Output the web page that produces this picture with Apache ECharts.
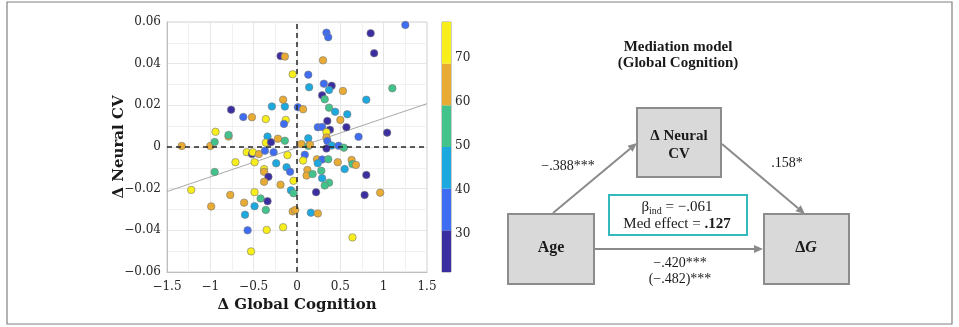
<!DOCTYPE html>
<html>
<head>
<meta charset="utf-8">
<script src="https://cdn.jsdelivr.net/npm/echarts@6/dist/echarts.min.js"></script>
<style>
  html, body { margin: 0; padding: 0; background: #ffffff; }
  #chart { width: 959px; height: 327px; }
</style>
</head>
<body>
<div id="chart"></div>
<script>
// Change in global cognition (x) vs change in neural CV (y), coloured by age
const cogX = [
  -1.33, -1.00, -0.95, -0.94, -0.79, -0.79, -0.76, -0.62, -0.52, -0.36, -0.34, -0.36, -0.30, -0.22, -0.14, -0.29,
  -0.14, -0.16, -0.13, -0.15, -0.19, -0.14, -0.05, 0.01, -0.58, -0.52, -0.51, -0.44, -0.37, -0.27, -0.11,
  1.25, 0.34, 0.36, 0.85, 0.89, 0.30, 0.13, 0.14, 0.31, 0.40, 0.37, 0.53, 1.10, 0.29, 0.32, 0.80, 0.07, 0.37,
  0.44, 0.58, 0.50, 0.35, 0.24, 0.29, 0.38, 0.34, 0.57, 1.04, 0.71, 0.34, 0.13, 0.35, 0.05, 0.13, 0.15, 0.40,
  0.48, 0.54, 0.34,
  0.09, 0.07, 0.23, 0.29, 0.36, 0.24, 0.47, 0.63, 0.64, 0.68, 0.55, 0.80, 0.12, 0.11, 0.18, 0.28, 0.29, 0.37,
  0.32, 0.22, 0.78, 0.96, 0.16, 0.24, 0.64,
  -0.71, -0.49, -0.95, -0.38, -0.38, -0.33, -0.38, -0.24, -0.12, -0.08, -0.19, -0.04, -0.07, -0.04, -1.22,
  -0.77, -0.49, -0.42, -0.34, -0.61, -0.49, -0.36, -0.99, -0.60, -0.05, -0.02, -0.57, -0.35, -0.16, -0.53
];
const cvY = [
  0.0005, 0.0005, 0.0024, 0.0073, 0.0050, 0.0058, 0.0179, 0.0144, 0.0143, 0.0134, 0.0050, 0.0021, 0.0023, 0.0040,
  0.0030, 0.0195, 0.0194, 0.0227, 0.0130, 0.0111, 0.0437, 0.0434, 0.0349, 0.0191, -0.0025, -0.0034, -0.0025,
  -0.0034, -0.0018, -0.0025, -0.0039,
  0.0586, 0.0549, 0.0527, 0.0546, 0.0450, 0.0416, 0.0347, 0.0287, 0.0304, 0.0294, 0.0274, 0.0269, 0.0282, 0.0248,
  0.0229, 0.0227, 0.0181, 0.0189, 0.0169, 0.0157, 0.0130, 0.0125, 0.0095, 0.0096, 0.0083, 0.0071, 0.0095, 0.0069,
  0.0049, 0.0046, 0.0042, 0.0029, 0.0014, 0.0005, 0.0011, 0.0007, 0.0006, -0.0003, -0.0007,
  -0.0037, -0.0065, -0.0059, -0.0060, -0.0059, -0.0078, -0.0073, -0.0062, -0.0082, -0.0086, -0.0106, -0.0134,
  -0.0110, -0.0137, -0.0130, -0.0114, -0.0150, -0.0171, -0.0185, -0.0217, -0.0230, -0.0219, -0.0315, -0.0319, -0.0434,
  -0.0073, -0.0073, -0.0120, -0.0106, -0.0119, -0.0143, -0.0167, -0.0078, -0.0097, -0.0119, -0.0181, -0.0162,
  -0.0208, -0.0222, -0.0206, -0.0230, -0.0217, -0.0247, -0.0260, -0.0267, -0.0284, -0.0302, -0.0285, -0.0325,
  -0.0309, -0.0302, -0.0400, -0.0398, -0.0385, -0.0501
];
const ages = [
  63, 66, 54, 72, 62, 56, 27, 35, 64, 74, 45, 71, 25, 65, 53, 44, 46, 61, 73, 37, 26, 67, 70, 34, 76, 28, 72, 63, 36, 33, 71,
  36, 33, 38, 24, 27, 64, 35, 43, 37, 29, 47, 62, 55, 26, 57, 44, 66, 52, 45, 42, 63, 25, 34, 39, 28, 75, 23, 27, 36,
  61, 46, 38, 65, 53, 67, 44, 35, 56, 29,
  34, 73, 62, 37, 54, 46, 65, 63, 56, 61, 43, 26, 64, 66, 52, 55, 45, 57, 53, 28, 24, 62, 47, 65, 74,
  72, 75, 53, 71, 64, 27, 66, 44, 46, 35, 63, 70, 42, 55, 77, 62, 73, 54, 25, 67, 45, 57, 61, 43, 64, 66, 38, 74, 72, 76
];

// Least-squares line end points
const fitX = [-1.5, 1.5];
const fitY = [-0.0214, 0.0208];

// Age colour scale (six bands)
const ageEdges = [21.2, 30.7, 40.2, 49.7, 59.2, 68.7, 78.2];
const bandColors = ['#3b2ea0', '#3e6cf2', '#1ca9df', '#42c38c', '#e8ab33', '#f7ee1c'];
const ageTicks = [30, 40, 50, 60, 70];

// Axis ticks
const xTicks = { min: -1.5, max: 1.5, step: 0.5 };
const yTicks = { min: -0.06, max: 0.06, step: 0.02 };

// Mediation path coefficients
const pathA = '\u2212.388***';
const pathB = '.158*';
const pathC = '\u2212.420***';
const pathCTotal = '(\u2212.482)***';
const betaInd = '\u2212.061';
const medEffect = '.127';

const SERIF = '"DejaVu Serif", serif';
const TIMES = '"Liberation Serif", "Times New Roman", serif';

const fmt = v => {
  const s = String(+v.toFixed(3));
  return s.charAt(0) === '-' ? '\u2212' + s.slice(1) : s;
};

const points = cogX.map((x, i) => [x, cvY[i], ages[i]]);
const fitData = fitX.map((x, i) => [x, fitY[i]]);
const bands = bandColors.map((c, i) => [0.5, ageEdges[i], ageEdges[i + 1], i]);

// Mediation diagram geometry
const boxFill = '#d9d9d9', boxStroke = '#8c8c8c', arrowColor = '#8a8a8a';
const boxes = {
  mid: { x: 637, y: 108, w: 84, h: 69 },
  age: { x: 508, y: 214, w: 86, h: 70 },
  out: { x: 764, y: 214, w: 85, h: 70 }
};
function arrow(x1, y1, x2, y2) {
  const ang = Math.atan2(y2 - y1, x2 - x1), L = 9, W = 4;
  const bx = x2 - L * Math.cos(ang), by = y2 - L * Math.sin(ang);
  const nx = -Math.sin(ang), ny = Math.cos(ang);
  return [
    { type: 'line', shape: { x1, y1, x2: bx, y2: by }, style: { stroke: arrowColor, lineWidth: 2 } },
    { type: 'polygon', shape: { points: [[x2, y2], [bx + nx * W, by + ny * W], [bx - nx * W, by - ny * W]] },
      style: { fill: arrowColor } }
  ];
}
function box(b) {
  return { type: 'rect', shape: { x: b.x, y: b.y, width: b.w, height: b.h },
    style: { fill: boxFill, stroke: boxStroke, lineWidth: 2 } };
}
function txt(x, y, text, font, extra) {
  return Object.assign({ type: 'text', x, y,
    style: Object.assign({ text, fill: '#1a1a1a', align: 'center', verticalAlign: 'middle' }, font) }, extra || {});
}

const graphics = [
  { type: 'rect', shape: { x: 7, y: 2, width: 945, height: 322 }, style: { fill: null, stroke: '#808080', lineWidth: 1.2 } },
  txt(678, 47, 'Mediation model', { font: 'bold 15px ' + TIMES }),
  txt(678, 63, '(Global Cognition)', { font: 'bold 15px ' + TIMES }),
  ...arrow(553, 213, 637, 143),
  ...arrow(722, 144, 805, 214),
  ...arrow(594, 249, 763, 249),
  box(boxes.mid), box(boxes.age), box(boxes.out),
  txt(679, 136, '\u0394 Neural', { font: 'bold 15px ' + TIMES }),
  txt(679, 154, 'CV', { font: 'bold 15px ' + TIMES }),
  txt(551, 248, 'Age', { font: 'bold 16px ' + TIMES }),
  txt(806, 248, '', {
    text: '{d|\u0394}{g|G}',
    rich: { d: { font: 'bold 16px ' + TIMES, fill: '#1a1a1a' }, g: { font: 'italic bold 16px ' + TIMES, fill: '#1a1a1a' } }
  }),
  { type: 'rect', shape: { x: 609, y: 195, width: 138, height: 40 }, style: { fill: '#ffffff', stroke: '#35b9bd', lineWidth: 2 } },
  txt(677, 207, '', {
    text: '{a|\u03b2}{s|ind}{a| = ' + betaInd + '}',
    rich: {
      a: { font: '15px ' + TIMES, fill: '#1a1a1a', lineHeight: 18 },
      s: { font: '10px ' + TIMES, fill: '#1a1a1a', lineHeight: 9, verticalAlign: 'bottom' }
    }
  }),
  txt(677, 224, '', {
    text: '{a|Med effect = }{b|' + medEffect + '}',
    rich: { a: { font: '15px ' + TIMES, fill: '#1a1a1a' }, b: { font: 'bold 15px ' + TIMES, fill: '#1a1a1a' } }
  }),
  txt(568, 166, pathA, { font: '14px ' + TIMES }),
  txt(787, 163, pathB, { font: '14px ' + TIMES }),
  txt(680, 263, pathC, { font: '14px ' + TIMES }),
  txt(680, 279, pathCTotal, { font: '14px ' + TIMES })
];
graphics.forEach(g => { if (g.style && g.style.text === '') delete g.style.text; });

const chart = echarts.init(document.getElementById('chart'));
chart.setOption({
  animation: false,
  backgroundColor: '#ffffff',
  grid: [
    { left: 167, top: 22, width: 260, height: 250, show: true, borderColor: '#d2d2d2', borderWidth: 1 },
    { left: 442, top: 22, width: 9, height: 250, show: true, borderColor: '#9a9a9a', borderWidth: 1 }
  ],
  xAxis: [
    {
      gridIndex: 0, type: 'value', min: xTicks.min, max: xTicks.max, interval: xTicks.step,
      axisLine: { onZero: false, lineStyle: { color: '#bdbdbd' } },
      axisTick: { show: false },
      splitLine: { lineStyle: { color: '#e6e6e6', width: 1 } },
      minorTick: { show: false, splitNumber: 2 },
      minorSplitLine: { show: true, lineStyle: { color: '#f1f1f1', width: 1 } },
      axisLabel: { formatter: fmt, fontFamily: SERIF, fontSize: 12, color: '#262626', margin: 9 },
      name: '\u0394 Global Cognition', nameLocation: 'middle', nameGap: 24,
      nameTextStyle: { fontFamily: SERIF, fontWeight: 'bold', fontSize: 15, color: '#1a1a1a' }
    },
    { gridIndex: 1, type: 'value', min: 0, max: 1, show: false }
  ],
  yAxis: [
    {
      gridIndex: 0, type: 'value', min: yTicks.min, max: yTicks.max, interval: yTicks.step,
      axisLine: { show: true, onZero: false, lineStyle: { color: '#bdbdbd' } },
      axisTick: { show: false },
      splitLine: { lineStyle: { color: '#e6e6e6', width: 1 } },
      minorTick: { show: false, splitNumber: 2 },
      minorSplitLine: { show: true, lineStyle: { color: '#f1f1f1', width: 1 } },
      axisLabel: { formatter: fmt, fontFamily: SERIF, fontSize: 12, color: '#262626', margin: 6 },
      name: '\u0394 Neural CV', nameLocation: 'middle', nameGap: 40, nameRotate: 90, nameMoveOverlap: false,
      nameTextStyle: { fontFamily: SERIF, fontWeight: 'bold', fontSize: 15, color: '#1a1a1a' }
    },
    {
      gridIndex: 1, type: 'value', min: ageEdges[0], max: ageEdges[ageEdges.length - 1], position: 'right',
      axisLine: { show: false },
      splitLine: { show: false },
      axisTick: { show: true, customValues: ageTicks, length: 2, lineStyle: { color: '#555' } },
      axisLabel: { customValues: ageTicks, fontFamily: SERIF, fontSize: 12, color: '#262626', margin: 4 }
    }
  ],
  visualMap: {
    type: 'piecewise', show: false, dimension: 2, seriesIndex: 0,
    pieces: bandColors.map((c, i) => ({ gte: ageEdges[i], lt: ageEdges[i + 1], color: c }))
  },
  series: [
    {
      type: 'scatter', xAxisIndex: 0, yAxisIndex: 0, data: points, symbolSize: 7.5, z: 4,
      itemStyle: { borderColor: '#7a7a7a', borderWidth: 0.6, opacity: 1 }
    },
    {
      type: 'line', xAxisIndex: 0, yAxisIndex: 0, data: fitData, symbol: 'none', z: 3, silent: true,
      lineStyle: { color: '#a9a9a9', width: 1 }
    },
    {
      type: 'line', xAxisIndex: 0, yAxisIndex: 0, data: [], z: 2, silent: true,
      markLine: {
        silent: true, symbol: 'none', label: { show: false },
        lineStyle: { color: '#262626', width: 1.5, type: [5, 4] },
        data: [{ xAxis: 0 }, { yAxis: 0 }]
      }
    },
    {
      type: 'custom', xAxisIndex: 1, yAxisIndex: 1, data: bands, silent: true,
      renderItem: (params, api) => {
        const top = api.coord([api.value(0), api.value(2)]);
        const bot = api.coord([api.value(0), api.value(1)]);
        const cs = params.coordSys;
        return { type: 'rect', shape: { x: cs.x, y: top[1], width: cs.width, height: bot[1] - top[1] },
          style: { fill: bandColors[api.value(3)] } };
      }
    }
  ],
  graphic: graphics
});
</script>
</body>
</html>
